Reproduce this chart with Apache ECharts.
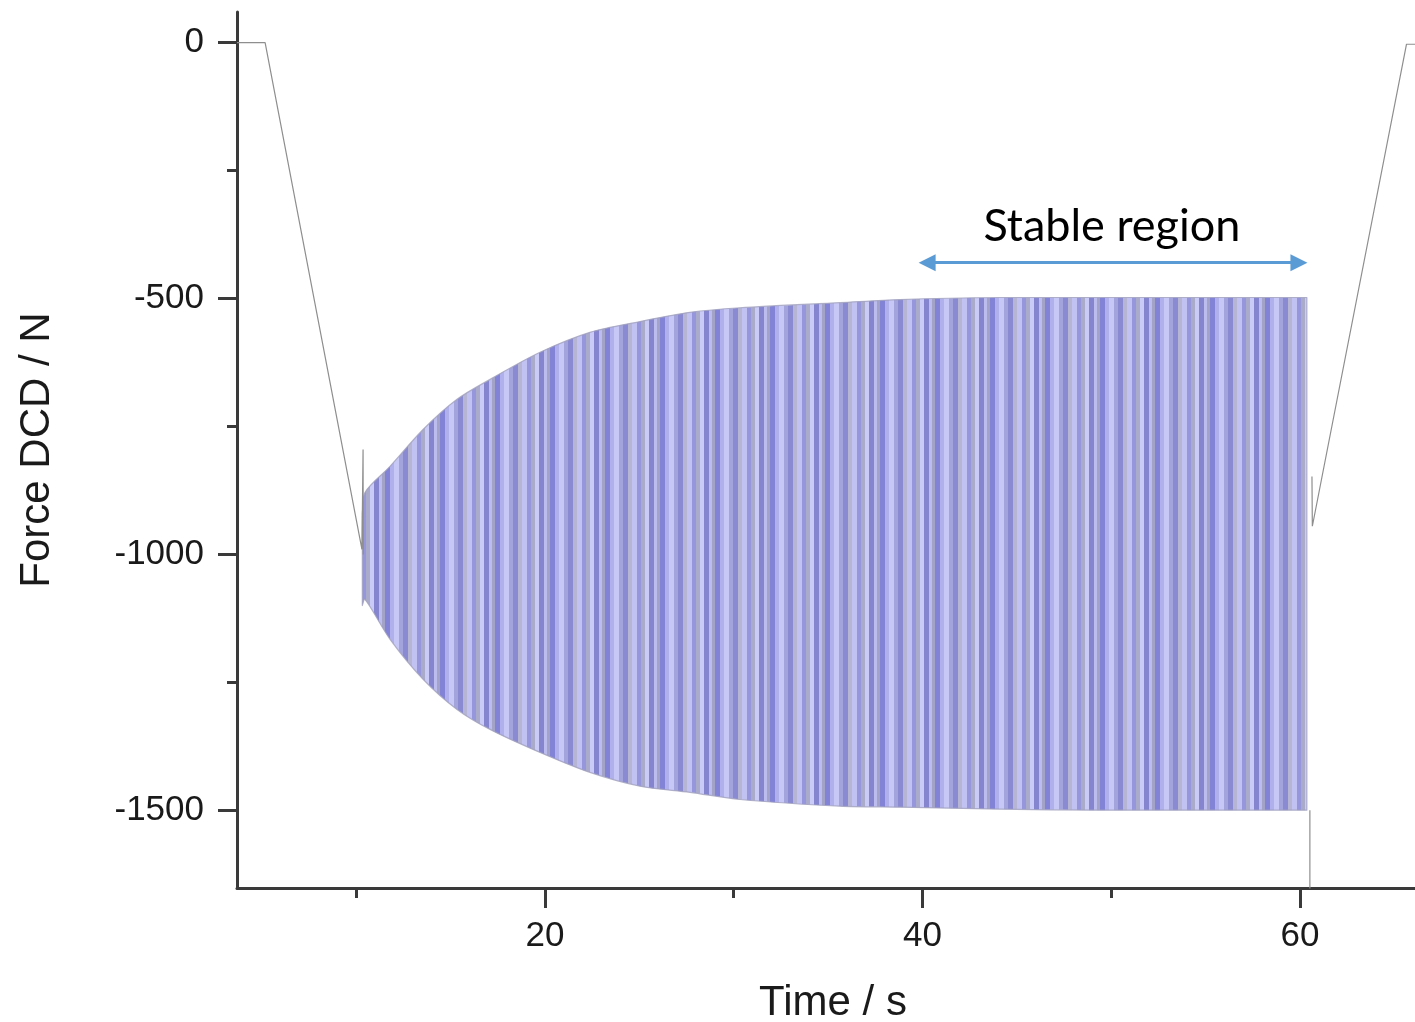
<!DOCTYPE html>
<html>
<head>
<meta charset="utf-8">
<script src="https://cdn.jsdelivr.net/npm/echarts@6/dist/echarts.min.js"></script>
<style>
html,body{margin:0;padding:0;background:#fff;}
#chart{width:1415px;height:1022px;}
</style>
</head>
<body>
<div id="chart"></div>
<script>
// ---- data ----
// oscillation envelope (time s, upper / lower force N)
const envTime  = [10.32, 10.46, 11.79, 13.54, 15.34, 17.09, 19.74, 22.38, 25.03, 27.68, 30.33, 35.63, 38.81, 44.11, 49.40, 55.00, 60.37];
const envUpper = [-920, -879, -828, -756, -697, -658, -605, -566, -545, -527, -518, -508, -502, -498, -498, -498, -498];
const envLower = [-1100, -1088, -1166, -1244, -1303, -1342, -1387, -1426, -1453, -1465, -1479, -1492, -1494, -1498, -1500, -1500, -1500];
// thin trace outside the oscillation: [time, force]
const leftRamp  = [[3.68, 0], [5.17, 0], [10.30, -990], [10.36, -795], [10.37, -1000]];
const endDrop   = [[60.53, -1500], [60.53, -1700]];
const rightRamp = [[60.64, -848], [60.66, -945], [65.65, -3], [66.1, -3]];
// axis ticks
const xMajorTicks = [20, 40, 60];
const xMinorTicks = [10, 30, 50];
const yMajorTicks = [0, -500, -1000, -1500];
const yMinorTicks = [-250, -750, -1250];
// annotation
const stableText  = 'Stable region';
const stableLabelAt = [50.04, -359];
const arrowFrom = [40.25, -430];
const arrowTo   = [59.95, -430];

// ---- styling helpers ----
function stripePattern() {
  const stripes = [['#8282d6',5],['#b0b0ec',4],['#c8c8f7',5],['#a4a4dc',4],['#8a8ad2',5],['#b6b6d4',4],
                   ['#c2c2f2',5],['#9696dc',4],['#aaaacb',4],['#cbcbf8',4],['#8585cf',5],['#bcbcee',3],['#a3a3c8',3]];
  const w = stripes.reduce((s, a) => s + a[1], 0);
  const c = document.createElement('canvas');
  c.width = w; c.height = 8;
  const ctx = c.getContext('2d');
  let x = 0;
  stripes.forEach(([col, sw]) => { ctx.fillStyle = col; ctx.fillRect(x, 0, sw, 8); x += sw; });
  return c;
}
const pattern = { image: stripePattern(), repeat: 'repeat' };

const axisColor = '#3a3a3a';
const labelFont = 'Liberation Sans, Arial, sans-serif';
const plainNum = v => String(v);

const chart = echarts.init(document.getElementById('chart'));
const traceData = leftRamp.concat([null], endDrop, [null], rightRamp);

chart.setOption({
  animation: false,
  backgroundColor: '#ffffff',
  grid: { left: 237, right: 0, top: 12, bottom: 134, containLabel: false, outerBoundsMode: 'none' },
  xAxis: [{
    type: 'value', min: 3.68, max: 66.1, position: 'bottom',
    name: 'Time / s', nameLocation: 'middle', nameGap: 94,
    nameTextStyle: { fontFamily: labelFont, fontSize: 42, color: '#1a1a1a', padding: [0, 0, 0, 14] },
    axisLine: { show: true, onZero: false, lineStyle: { color: axisColor, width: 3 } },
    axisTick: { show: true, inside: false, length: 20, customValues: xMajorTicks, lineStyle: { color: axisColor, width: 3 } },
    axisLabel: { show: true, customValues: xMajorTicks, formatter: plainNum, margin: 31, fontFamily: labelFont, fontSize: 35, color: '#1a1a1a' },
    splitLine: { show: false }
  }, {
    type: 'value', min: 3.68, max: 66.1, position: 'bottom',
    axisLine: { show: false, onZero: false },
    axisTick: { show: true, inside: false, length: 10, customValues: xMinorTicks, lineStyle: { color: axisColor, width: 3 } },
    axisLabel: { show: false },
    splitLine: { show: false }
  }],
  yAxis: [{
    type: 'value', min: -1652, max: 60, position: 'left',
    name: 'Force DCD / N', nameLocation: 'middle', nameGap: 179, nameRotate: 90,
    nameTextStyle: { fontFamily: labelFont, fontSize: 42, color: '#1a1a1a' },
    axisLine: { show: true, onZero: false, lineStyle: { color: axisColor, width: 3 } },
    axisTick: { show: true, inside: false, length: 19, customValues: yMajorTicks, lineStyle: { color: axisColor, width: 3 } },
    axisLabel: { show: true, customValues: yMajorTicks, formatter: plainNum, margin: 33, fontFamily: labelFont, fontSize: 35, color: '#1a1a1a' },
    splitLine: { show: false }
  }, {
    type: 'value', min: -1652, max: 60, position: 'left',
    axisLine: { show: false, onZero: false },
    axisTick: { show: true, inside: false, length: 10, customValues: yMinorTicks, lineStyle: { color: axisColor, width: 3 } },
    axisLabel: { show: false },
    splitLine: { show: false }
  }],
  series: [{
    type: 'custom',
    xAxisIndex: 0, yAxisIndex: 0,
    clip: true,
    silent: true,
    data: [[envTime[0], envUpper[0]]],
    renderItem: function (params, api) {
      const n = envTime.length;
      const pts = [];
      // duplicated corner points keep the ends sharp while the envelope edges are smoothed
      pts.push(api.coord([envTime[0], envUpper[0]]));
      for (let i = 0; i < n; i++) pts.push(api.coord([envTime[i], envUpper[i]]));
      pts.push(api.coord([envTime[n - 1], envUpper[n - 1]]));
      pts.push(api.coord([envTime[n - 1], envLower[n - 1]]));
      for (let i = n - 1; i >= 0; i--) pts.push(api.coord([envTime[i], envLower[i]]));
      pts.push(api.coord([envTime[0], envLower[0]]));
      let minX = Infinity, minY = Infinity, maxX = -Infinity, maxY = -Infinity;
      pts.forEach(p => { minX = Math.min(minX, p[0]); maxX = Math.max(maxX, p[0]); minY = Math.min(minY, p[1]); maxY = Math.max(maxY, p[1]); });
      return {
        type: 'polygon',
        shape: { points: pts, smooth: 0.3, smoothConstraint: [[minX, minY], [maxX, maxY]] },
        style: { fill: pattern, stroke: 'rgba(160,160,190,0.8)', lineWidth: 1.2, lineJoin: 'round' }
      };
    }
  }, {
    type: 'line',
    xAxisIndex: 0, yAxisIndex: 0,
    data: traceData,
    connectNulls: false,
    showSymbol: false,
    symbol: 'none',
    clip: true,
    silent: true,
    lineStyle: { color: '#8e8e8e', width: 1.2 },
    markLine: {
      silent: true,
      symbol: ['triangle', 'triangle'],
      symbolSize: 17,
      label: { show: false },
      lineStyle: { color: '#5b9bd5', width: 3, type: 'solid' },
      data: [[{ coord: arrowFrom }, { coord: arrowTo }]]
    },
    markPoint: {
      silent: true,
      symbol: 'circle',
      symbolSize: 0,
      label: { show: true, position: 'inside', formatter: stableText, fontFamily: 'Lato, Carlito, sans-serif', fontSize: 45, color: '#000' },
      data: [{ coord: stableLabelAt }]
    }
  }]
});
</script>
</body>
</html>
